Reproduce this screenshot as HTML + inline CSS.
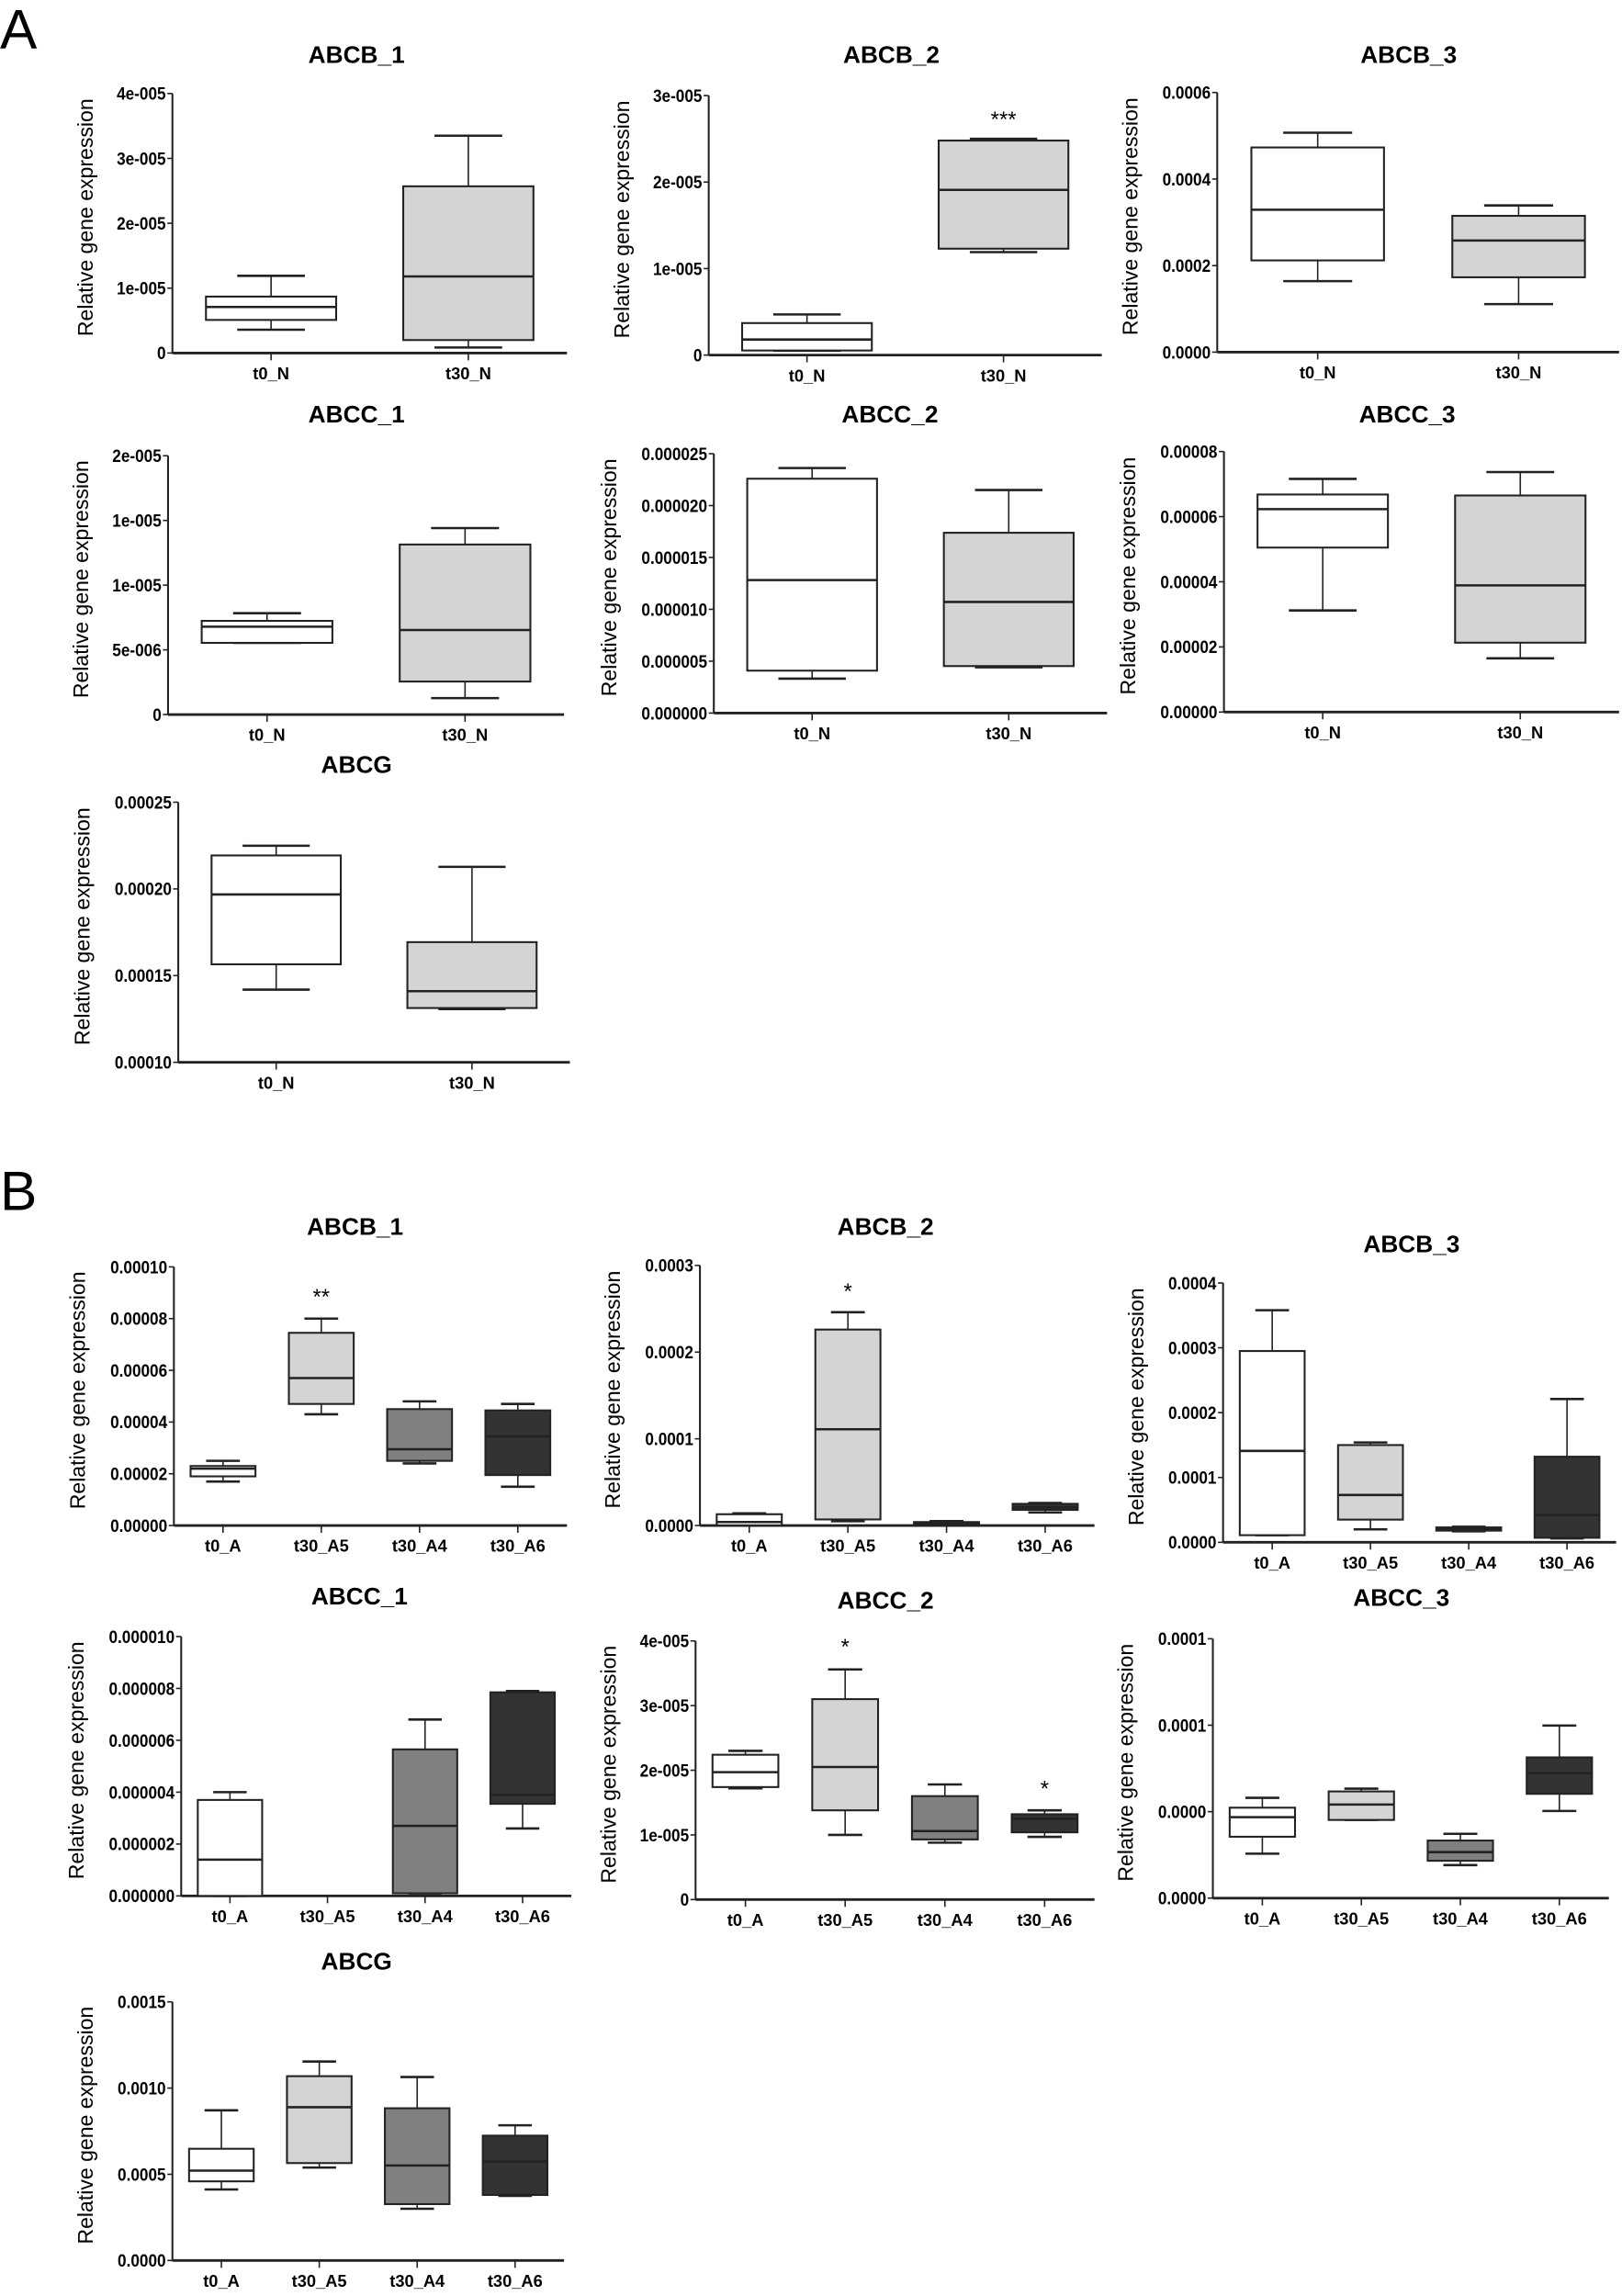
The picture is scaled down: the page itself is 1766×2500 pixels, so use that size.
<!DOCTYPE html>
<html><head><meta charset="utf-8"><style>
html,body{margin:0;padding:0;background:#fff;}
svg{display:block;}
text{font-family:"Liberation Sans",Arial,sans-serif;fill:#000;}
</style></head><body>
<svg id="fig" width="1766" height="2500" viewBox="0 0 1110 1571.3" preserveAspectRatio="none" xmlns="http://www.w3.org/2000/svg">
<text x="0" y="33" font-size="38">A</text>
<text x="0" y="828" font-size="38">B</text>
</svg>
<script>
// ---------- data (values in axis units) ----------
const catsN = ["t0_N", "t30_N"];
const catsA = ["t0_A", "t30_A5", "t30_A4", "t30_A6"];
const fillsN = ["#ffffff", "#d4d4d4"];
const fillsA = ["#ffffff", "#d4d4d4", "#808080", "#333333"];

// stats per category: [min, q1, median, q3, max]
const A_ABCB_1 = [[0.36,0.51,0.71,0.87,1.19],[0.085,0.2,1.18,2.57,3.35]];
const A_ABCB_2 = [[0.05,0.053,0.18,0.37,0.47],[1.19,1.23,1.91,2.48,2.5]];
const A_ABCB_3 = [[1.64,2.12,3.29,4.73,5.07],[1.11,1.73,2.58,3.15,3.39]];
const A_ABCC_1 = [[5.54,5.54,6.79,7.24,7.83],[1.27,2.55,6.53,13.14,14.41]];
const A_ABCC_2 = [[3.32,4.09,12.82,22.59,23.62],[4.41,4.53,10.71,17.38,21.5]];
const A_ABCC_3 = [[3.12,5.05,6.23,6.68,7.16],[1.65,2.13,3.89,6.65,7.37]];
const A_ABCG   = [[14.19,15.65,19.68,21.93,22.49],[13.07,13.13,14.1,16.93,21.27]];
const B_ABCB_1 = [[1.7,1.9,2.2,2.3,2.5],[4.3,4.7,5.7,7.45,8.0],[2.4,2.5,2.95,4.5,4.8],[1.5,1.95,3.45,4.45,4.7]];
const B_ABCB_2 = [[0,0.002,0.04,0.13,0.14],[0.05,0.07,1.11,2.26,2.46],[0,0.01,0.03,0.04,0.05],[0.15,0.18,0.21,0.25,0.26]];
const B_ABCB_3 = [[0.11,0.11,1.41,2.95,3.58],[0.2,0.35,0.73,1.5,1.54],[0.17,0.18,0.2,0.23,0.24],[0.06,0.07,0.42,1.32,2.21]];
const B_ABCC_1 = [[0,0,1.4,3.7,4.0],null,[0.1,0.1,2.7,5.65,6.8],[2.6,3.55,3.9,7.85,7.9]];
const B_ABCC_2 = [[1.72,1.74,1.97,2.24,2.3],[1.0,1.38,2.05,3.1,3.56],[0.88,0.93,1.06,1.6,1.78],[0.97,1.04,1.25,1.32,1.38]];
const B_ABCC_3 = [[2.57,3.55,4.68,5.23,5.8],[4.52,4.52,5.41,6.17,6.33],[1.91,2.16,2.66,3.33,3.72],[5.04,6.03,7.23,8.14,9.98]];
const B_ABCG   = [[4.12,4.59,5.21,6.48,8.71],[5.39,5.65,8.89,10.69,11.54],[3.0,3.27,5.51,8.83,10.64],[3.75,3.8,5.74,7.24,7.84]];

// tick values / labels
const ticks_A_ABCB_1 = [0,1,2,3,4];   const tl_A_ABCB_1 = ["0","1e-005","2e-005","3e-005","4e-005"];
const ticks_A_ABCB_2 = [0,1,2,3];     const tl_A_ABCB_2 = ["0","1e-005","2e-005","3e-005"];
const ticks_A_ABCB_3 = [0,2,4,6];     const tl_A_ABCB_3 = ["0.0000","0.0002","0.0004","0.0006"];
const ticks_A_ABCC_1 = [0,5,10,15,20];const tl_A_ABCC_1 = ["0","5e-006","1e-005","1e-005","2e-005"];
const ticks_A_ABCC_2 = [0,5,10,15,20,25]; const tl_A_ABCC_2 = ["0.000000","0.000005","0.000010","0.000015","0.000020","0.000025"];
const ticks_A_ABCC_3 = [0,2,4,6,8];   const tl_A_ABCC_3 = ["0.00000","0.00002","0.00004","0.00006","0.00008"];
const ticks_A_ABCG   = [10,15,20,25]; const tl_A_ABCG   = ["0.00010","0.00015","0.00020","0.00025"];
const ticks_B_ABCB_1 = [0,2,4,6,8,10];const tl_B_ABCB_1 = ["0.00000","0.00002","0.00004","0.00006","0.00008","0.00010"];
const ticks_B_ABCB_2 = [0,1,2,3];     const tl_B_ABCB_2 = ["0.0000","0.0001","0.0002","0.0003"];
const ticks_B_ABCB_3 = [0,1,2,3,4];   const tl_B_ABCB_3 = ["0.0000","0.0001","0.0002","0.0003","0.0004"];
const ticks_B_ABCC_1 = [0,2,4,6,8,10];const tl_B_ABCC_1 = ["0.000000","0.000002","0.000004","0.000006","0.000008","0.000010"];
const ticks_B_ABCC_2 = [0,1,2,3,4];   const tl_B_ABCC_2 = ["0","1e-005","2e-005","3e-005","4e-005"];
const ticks_B_ABCC_3 = [0,5,10,15];   const tl_B_ABCC_3 = ["0.0000","0.0000","0.0001","0.0001"];
const ticks_B_ABCG   = [0,5,10,15];   const tl_B_ABCG   = ["0.0000","0.0005","0.0010","0.0015"];

// significance stars: [category index, value, text]
const stars_A_ABCB_2 = [[1,2.74,"***"]];
const stars_B_ABCB_1 = [[1,8.9,"**"]];
const stars_B_ABCB_2 = [[1,2.72,"*"]];
const stars_B_ABCC_2 = [[1,3.93,"*"],[3,1.74,"*"]];

// ---------- layout ----------
const panels = [
 {id:"a-abcb-1",title:"ABCB_1",tx:244,ty:43,ax:118,top:64,bot:241.6,end:388,ymin:0,ymax:4,ticks:ticks_A_ABCB_1,tl:tl_A_ABCB_1,cats:catsN,fills:fillsN,stats:A_ABCB_1,stars:[]},
 {id:"a-abcb-2",title:"ABCB_2",tx:610,ty:43,ax:485,top:65.4,bot:243,end:754,ymin:0,ymax:3,ticks:ticks_A_ABCB_2,tl:tl_A_ABCB_2,cats:catsN,fills:fillsN,stats:A_ABCB_2,stars:stars_A_ABCB_2},
 {id:"a-abcb-3",title:"ABCB_3",tx:964,ty:43,ax:833,top:63.3,bot:241,end:1108,ymin:0,ymax:6,ticks:ticks_A_ABCB_3,tl:tl_A_ABCB_3,cats:catsN,fills:fillsN,stats:A_ABCB_3,stars:[]},
 {id:"a-abcc-1",title:"ABCC_1",tx:244,ty:289,ax:115,top:311.9,bot:489,end:386,ymin:0,ymax:20,ticks:ticks_A_ABCC_1,tl:tl_A_ABCC_1,cats:catsN,fills:fillsN,stats:A_ABCC_1,stars:[]},
 {id:"a-abcc-2",title:"ABCC_2",tx:609,ty:289,ax:488.5,top:310.5,bot:488,end:757.6,ymin:0,ymax:25,ticks:ticks_A_ABCC_2,tl:tl_A_ABCC_2,cats:catsN,fills:fillsN,stats:A_ABCC_2,stars:[]},
 {id:"a-abcc-3",title:"ABCC_3",tx:963,ty:289,ax:837.6,top:309,bot:487.3,end:1108,ymin:0,ymax:8,ticks:ticks_A_ABCC_3,tl:tl_A_ABCC_3,cats:catsN,fills:fillsN,stats:A_ABCC_3,stars:[]},
 {id:"a-abcg",title:"ABCG",tx:244,ty:529,ax:122,top:549,bot:727,end:390,ymin:10,ymax:25,ticks:ticks_A_ABCG,tl:tl_A_ABCG,cats:catsN,fills:fillsN,stats:A_ABCG,stars:[]},
 {id:"b-abcb-1",title:"ABCB_1",tx:243,ty:845,ax:119,top:867,bot:1044,end:388,ymin:0,ymax:10,ticks:ticks_B_ABCB_1,tl:tl_B_ABCB_1,cats:catsA,fills:fillsA,stats:B_ABCB_1,stars:stars_B_ABCB_1},
 {id:"b-abcb-2",title:"ABCB_2",tx:606,ty:845,ax:479,top:866,bot:1044,end:749,ymin:0,ymax:3,ticks:ticks_B_ABCB_2,tl:tl_B_ABCB_2,cats:catsA,fills:fillsA,stats:B_ABCB_2,stars:stars_B_ABCB_2},
 {id:"b-abcb-3",title:"ABCB_3",tx:966,ty:857,ax:837,top:878,bot:1055.5,end:1106,ymin:0,ymax:4,ticks:ticks_B_ABCB_3,tl:tl_B_ABCB_3,cats:catsA,fills:fillsA,stats:B_ABCB_3,stars:[]},
 {id:"b-abcc-1",title:"ABCC_1",tx:246,ty:1098,ax:124,top:1120,bot:1297.5,end:391,ymin:0,ymax:10,ticks:ticks_B_ABCC_1,tl:tl_B_ABCC_1,cats:catsA,fills:fillsA,stats:B_ABCC_1,stars:[]},
 {id:"b-abcc-2",title:"ABCC_2",tx:606,ty:1101,ax:476,top:1123,bot:1300,end:749,ymin:0,ymax:4,ticks:ticks_B_ABCC_2,tl:tl_B_ABCC_2,cats:catsA,fills:fillsA,stats:B_ABCC_2,stars:stars_B_ABCC_2},
 {id:"b-abcc-3",title:"ABCC_3",tx:959,ty:1099,ax:830,top:1121.5,bot:1299,end:1101,ymin:0,ymax:15,ticks:ticks_B_ABCC_3,tl:tl_B_ABCC_3,cats:catsA,fills:fillsA,stats:B_ABCC_3,stars:[]},
 {id:"b-abcg",title:"ABCG",tx:244,ty:1348,ax:118,top:1370,bot:1547,end:386,ymin:0,ymax:15,ticks:ticks_B_ABCG,tl:tl_B_ABCG,cats:catsA,fills:fillsA,stats:B_ABCG,stars:[]}
];

const NS = "http://www.w3.org/2000/svg";
const svg = document.getElementById("fig");
function mk(tag, attrs, parent){
  const e = document.createElementNS(NS, tag);
  for (const k in attrs) e.setAttribute(k, attrs[k]);
  parent.appendChild(e);
  return e;
}

panels.forEach(p => {
  const g = mk("g", {}, svg);
  
  
  const y = v => p.bot - (v - p.ymin) / (p.ymax - p.ymin) * (p.bot - p.top);
  const band = (p.end - p.ax) / p.cats.length;
  const x = i => p.ax + band * (i + 0.5);
  const hw = band * 0.33;

  const t = mk("text", {x:p.tx, y:p.ty, "font-size":16.5, "font-weight":"bold", "text-anchor":"middle"}, g);
  t.textContent = p.title;
  
  

  const ya = mk("line", {x1:p.ax, y1:p.top, x2:p.ax, y2:p.bot, stroke:"#222", "stroke-width":1.3}, g);
  
  
  let maxLen = 0;
  p.ticks.forEach((tv, i) => {
    const ty = y(tv);
    mk("line", {x1:p.ax-3.5, y1:ty, x2:p.ax, y2:ty, stroke:"#222", "stroke-width":1}, g);
    const tx = p.ax - 4.5;
    const lb = mk("text", {x:0, y:0, "font-size":12, "font-weight":"bold", "text-anchor":"end", transform:`translate(${tx} ${ty+4.3}) scale(0.9 1)`}, g);
    lb.textContent = p.tl[i];
    
    
    maxLen = Math.max(maxLen, p.tl[i].length);
  });
  const lx = p.ax - 6 - maxLen * 6.1 - 12;
  const ly = (p.top + p.bot) / 2 - 4;
  const yt = mk("text", {x:lx, y:ly, "font-size":14.5, "text-anchor":"middle", transform:`rotate(-90 ${lx} ${ly})`}, g);
  yt.textContent = "Relative gene expression";
  
  

  const xa = mk("line", {x1:p.ax, y1:p.bot, x2:p.end, y2:p.bot, stroke:"#222", "stroke-width":1.8}, g);
  
  
  p.cats.forEach((c, i) => {
    mk("line", {x1:x(i), y1:p.bot, x2:x(i), y2:p.bot+5, stroke:"#222", "stroke-width":1}, g);
    const cl = mk("text", {x:x(i), y:p.bot+18, "font-size":11.5, "font-weight":"bold", "text-anchor":"middle"}, g);
    cl.textContent = c;
    
    
  });

  p.stats.forEach((s, i) => {
    if (!s) return;
    const bg = mk("g", {}, g);
    
    
    const cx = x(i), cw = hw * 0.52;
    mk("line", {x1:cx, y1:y(s[0]), x2:cx, y2:y(s[1]), stroke:"#222", "stroke-width":1}, bg);
    mk("line", {x1:cx, y1:y(s[3]), x2:cx, y2:y(s[4]), stroke:"#222", "stroke-width":1}, bg);
    mk("line", {x1:cx-cw, y1:y(s[0]), x2:cx+cw, y2:y(s[0]), stroke:"#222", "stroke-width":1.6}, bg);
    mk("line", {x1:cx-cw, y1:y(s[4]), x2:cx+cw, y2:y(s[4]), stroke:"#222", "stroke-width":1.6}, bg);
    mk("rect", {x:cx-hw, y:y(s[3]), width:2*hw, height:Math.max(0.5, y(s[1]) - y(s[3])), fill:p.fills[i], stroke:"#222", "stroke-width":1.3}, bg);
    mk("line", {x1:cx-hw, y1:y(s[2]), x2:cx+hw, y2:y(s[2]), stroke:"#222", "stroke-width":1.6}, bg);
  });

  p.stars.forEach(st => {
    const sx = mk("text", {x:x(st[0]), y:y(st[1])+6, "font-size":15, "text-anchor":"middle"}, g);
    sx.textContent = st[2];
    
    
  });
});
</script>
</body></html>
